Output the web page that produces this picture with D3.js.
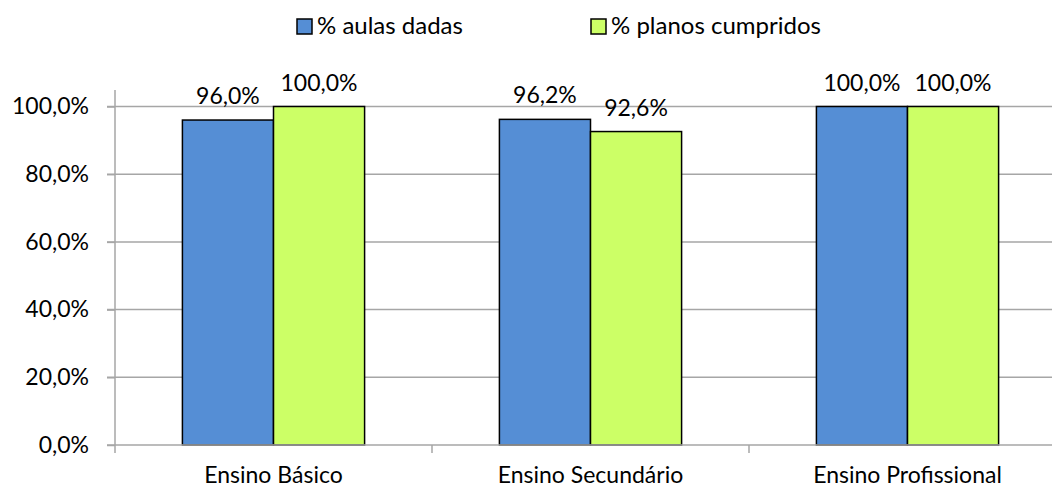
<!DOCTYPE html>
<html>
<head>
<meta charset="utf-8">
<script src="https://cdn.jsdelivr.net/npm/d3@7"></script>
<style>
  body { margin: 0; background: #fff; }
  text { font-family: Lato, "Open Sans", sans-serif; fill: #000; }
</style>
</head>
<body>
<div id="chart"></div>
<script>
const categories = ['Ensino Básico', 'Ensino Secundário', 'Ensino Profissional'];
const seriesNames = ['% aulas dadas', '% planos cumpridos'];
const aulasDadas = [96.0, 96.2, 100.0];
const planosCumpridos = [100.0, 92.6, 100.0];
const yTicks = [0, 20, 40, 60, 80, 100];
const colors = ['#558ed5', '#ccff66'];

const width = 1052;
const height = 490;
const margin = { top: 90, left: 115, right: -14, bottom: 45 };
const fontSize = '23px';

const svg = d3.select('#chart')
    .append('svg')
    .attr('width', width)
    .attr('height', height);

const x = d3.scaleBand()
    .domain(categories)
    .range([margin.left, width - margin.right])
    .paddingInner(0)
    .paddingOuter(0);

const y = d3.scaleLinear()
    .domain([0, 100])
    .range([height - margin.bottom, 106.5]);

const x1 = d3.scaleBand()
    .domain([0, 1])
    .range([0, x.bandwidth()])
    .paddingOuter(0.74)
    .paddingInner(0);

const fmt = v => d3.format('.1f')(v).replace('.', ',') + '%';

// gridlines
svg.append('g')
    .selectAll('line')
    .data(yTicks.filter(d => d > 0))
    .enter()
    .append('line')
    .attr('x1', margin.left - 8)
    .attr('x2', width)
    .attr('y1', d => y(d))
    .attr('y2', d => y(d))
    .attr('stroke', '#a6a6a6')
    .attr('stroke-width', 1.5);

// y axis
const yAxis = svg.append('g')
    .attr('transform', `translate(${margin.left},0)`)
    .call(d3.axisLeft(y).tickValues(yTicks).tickSize(8).tickPadding(18).tickFormat(fmt));
yAxis.select('.domain').remove();
yAxis.selectAll('line').attr('stroke', '#a6a6a6').attr('stroke-width', 1.5);
yAxis.selectAll('text').style('font-size', fontSize).style('font-family', 'Lato, sans-serif');
svg.append('line')
    .attr('x1', margin.left).attr('x2', margin.left)
    .attr('y1', margin.top).attr('y2', y(0))
    .attr('stroke', '#a6a6a6').attr('stroke-width', 1.5);

// bars
const rows = categories.map((c, i) => ({ cat: c, vals: [aulasDadas[i], planosCumpridos[i]] }));
const groups = svg.append('g')
    .selectAll('g')
    .data(rows)
    .enter()
    .append('g')
    .attr('transform', d => `translate(${x(d.cat)},0)`);

groups.selectAll('rect')
    .data(d => d.vals.map((v, j) => ({ v, j })))
    .enter()
    .append('rect')
    .attr('x', d => x1(d.j))
    .attr('y', d => y(d.v))
    .attr('width', x1.bandwidth())
    .attr('height', d => y(0) - y(d.v))
    .attr('fill', d => colors[d.j])
    .attr('stroke', '#000')
    .attr('stroke-width', 1.5);

groups.selectAll('text')
    .data(d => d.vals.map((v, j) => ({ v, j })))
    .enter()
    .append('text')
    .attr('x', d => x1(d.j) + x1.bandwidth() / 2)
    .attr('y', d => y(d.v) - 16)
    .attr('text-anchor', 'middle')
    .style('font-size', fontSize)
    .text(d => fmt(d.v));

// x axis
svg.append('line')
    .attr('x1', margin.left - 8).attr('x2', width)
    .attr('y1', y(0)).attr('y2', y(0))
    .attr('stroke', '#a6a6a6').attr('stroke-width', 1.5);
svg.append('g')
    .selectAll('line')
    .data(categories)
    .enter()
    .append('line')
    .attr('x1', d => x(d)).attr('x2', d => x(d))
    .attr('y1', y(0)).attr('y2', y(0) + 8)
    .attr('stroke', '#a6a6a6').attr('stroke-width', 1.5);
svg.append('g')
    .selectAll('text')
    .data(categories)
    .enter()
    .append('text')
    .attr('x', d => x(d) + x.bandwidth() / 2)
    .attr('y', 483)
    .attr('text-anchor', 'middle')
    .style('font-size', fontSize)
    .text(d => d);

// legend
const legendX = [297, 591];
const legend = svg.append('g')
    .selectAll('g')
    .data(seriesNames)
    .enter()
    .append('g')
    .attr('transform', (d, i) => `translate(${legendX[i]},19)`);
legend.append('rect')
    .attr('width', 15).attr('height', 15)
    .attr('fill', (d, i) => colors[i])
    .attr('stroke', '#000').attr('stroke-width', 1.5);
legend.append('text')
    .attr('x', 20).attr('y', 15)
    .style('font-size', '24px')
    .text(d => d);
</script>
</body>
</html>
